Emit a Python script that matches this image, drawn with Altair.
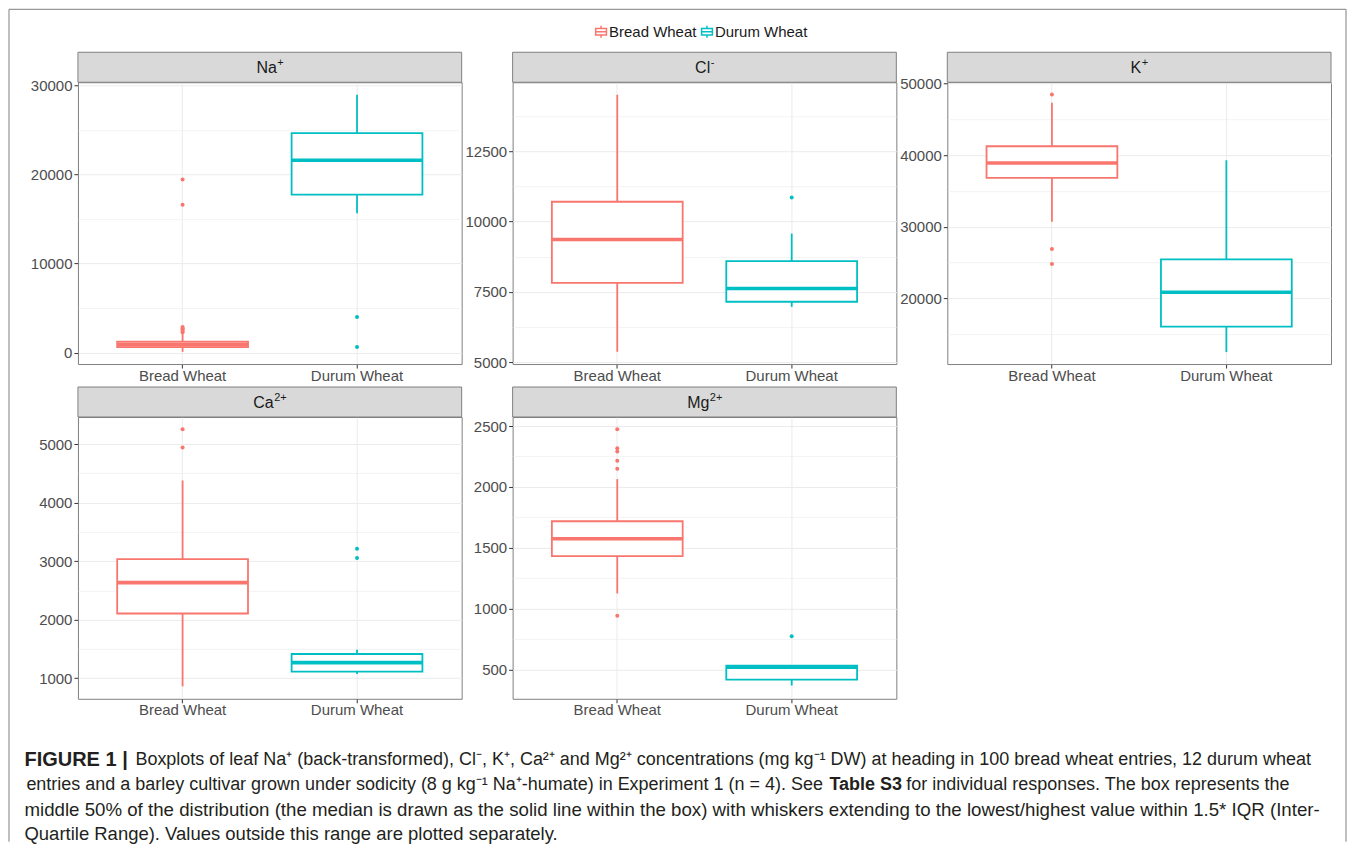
import altair as alt
import pandas as pd

FONT = "Liberation Sans, Arial, Helvetica, sans-serif"

groups = ["Bread Wheat", "Durum Wheat"]
group_colors = ["#F8766D", "#00BFC4"]
ion_names = ["Na", "Cl", "K", "Ca", "Mg"]
ion_charges = ["+", "-", "+", "2+", "2+"]

# five-number summaries: [lower whisker, Q1, median, Q3, upper whisker]
na_bread = [100, 620, 900, 1230, 2100]
na_durum = [15650, 17750, 21600, 24650, 28950]
cl_bread = [5380, 7820, 9360, 10700, 14500]
cl_durum = [6970, 7150, 7620, 8590, 9570]
k_bread = [30700, 36830, 38920, 41250, 47350]
k_durum = [12470, 16040, 20840, 25440, 39300]
ca_bread = [860, 2106, 2634, 3036, 4380]
ca_durum = [1073, 1112, 1266, 1414, 1487]
mg_bread = [1125, 1432, 1574, 1718, 2064]
mg_durum = [369, 418, 520, 533, 533]

# outliers
na_out_bread = [2300, 2450, 2600, 2750, 2900, 16600, 19450]
na_out_durum = [650, 4000]
cl_out_bread = []
cl_out_durum = [10850]
k_out_bread = [48500, 26900, 24800]
k_out_durum = []
ca_out_bread = [5255, 4945]
ca_out_durum = [3213, 3053]
mg_out_bread = [2473, 2318, 2290, 2214, 2149, 942]
mg_out_durum = [773]

# axis limits and tick values
na_domain = [-1270, 30350]
cl_domain = [4940, 14940]
k_domain = [10800, 50200]
ca_domain = [648, 5465]
mg_domain = [260, 2574]
na_ticks = [0, 5000, 10000, 15000, 20000, 25000, 30000]
cl_ticks = [5000, 6250, 7500, 8750, 10000, 11250, 12500, 13750]
k_ticks = [15000, 20000, 25000, 30000, 35000, 40000, 45000, 50000]
ca_ticks = [1000, 1500, 2000, 2500, 3000, 3500, 4000, 4500, 5000]
mg_ticks = [500, 750, 1000, 1250, 1500, 1750, 2000, 2250, 2500]
major_steps = [10000, 2500, 10000, 1000, 500]

caption_l1_bold = "FIGURE 1 |"
caption_l1 = ("Boxplots of leaf Na⁺ (back-transformed), Cl⁻, K⁺, Ca²⁺ and Mg²⁺ concentrations "
              "(mg kg⁻¹ DW) at heading in 100 bread wheat entries, 12 durum wheat")
caption_l2a = "entries and a barley cultivar grown under sodicity (8 g kg⁻¹ Na⁺-humate) in Experiment 1 (n = 4). See"
caption_l2_bold = "Table S3"
caption_l2c = "for individual responses. The box represents the"
caption_l3 = ("middle 50% of the distribution (the median is drawn as the solid line within the box) "
              "with whiskers extending to the lowest/highest value within 1.5* IQR (Inter-")
caption_l4 = "Quartile Range). Values outside this range are plotted separately."

W, H = 384, 282
STRIP_FS, SUP_FS = 16, 11
# approximate Arial advance widths (em) used to centre "name + charge" in the strip
EM = {"N": .722, "a": .556, "C": .722, "l": .222, "K": .667, "M": .833, "g": .556,
      "+": .584, "-": .333, "2": .556}
BOX_GLYPH = "M-0.9,-0.55H0.9V0.55H-0.9Z M-0.9,0H0.9 M0,-0.55V-1 M0,0.55V1"

color_scale = alt.Scale(domain=groups, range=group_colors)
x_scale = alt.Scale(domain=groups, paddingInner=0, paddingOuter=0.1)
x_axis = alt.Axis(title=None, labelAngle=0, grid=True, domain=False)
col = alt.Color("group:N", scale=color_scale, legend=None)
strk = alt.Stroke("group:N", scale=color_scale, legend=None)


def panel(i, bread, durum, out_b, out_d, domain, ticks, major, extra=None):
    stats = pd.DataFrame({
        "group": groups,
        "lower": [bread[0], durum[0]],
        "q1": [bread[1], durum[1]],
        "median": [bread[2], durum[2]],
        "q3": [bread[3], durum[3]],
        "upper": [bread[4], durum[4]],
    })
    outl = pd.DataFrame({
        "group": [groups[0]] * len(out_b) + [groups[1]] * len(out_d),
        "value": list(out_b) + list(out_d),
    })
    test = f"datum.value % {major} === 0"
    y_axis = alt.Axis(
        title=None, values=ticks, format="d", domain=False,
        labelExpr=f"{test} ? datum.label : ''",
        tickOpacity={"condition": {"test": test, "value": 1}, "value": 0},
        gridWidth={"condition": {"test": test, "value": 1}, "value": 0.6},
    )
    y_scale = alt.Scale(domain=domain, nice=False, zero=False)
    x = alt.X("group:N", scale=x_scale, axis=x_axis)

    def Y(f):
        return alt.Y(f"{f}:Q", scale=y_scale, axis=y_axis)

    base = alt.Chart(stats)
    whisk = base.mark_rule(strokeWidth=1.8).encode(x=x, y=Y("lower"), y2="upper:Q", color=col)
    box = base.mark_bar(fill="white", strokeWidth=1.8, width=alt.RelativeBandSize(0.75)).encode(
        x=x, y=Y("q1"), y2="q3:Q", stroke=strk)
    med = base.mark_tick(thickness=3.6, size=131, opacity=1).encode(x=x, y=Y("median"), color=col)
    layers = [whisk, box, med]
    if len(outl):
        pts = alt.Chart(outl).mark_circle(size=16, opacity=1).encode(x=x, y=Y("value"), color=col)
        layers.append(pts)

    name, charge = ion_names[i], ion_charges[i]
    wn = sum(EM[c] for c in name) * STRIP_FS
    wc = sum(EM[c] for c in charge) * SUP_FS
    xjoin = W / 2 + (wn - wc) / 2
    sdf = pd.DataFrame({"name": [name], "charge": [charge]})
    strip = alt.Chart(sdf).mark_rect(fill="#d9d9d9", stroke="#7f7f7f", strokeWidth=1).encode(
        x=alt.value(0), x2=alt.value(W), y=alt.value(-30), y2=alt.value(0))
    stxt = alt.Chart(sdf).mark_text(fontSize=STRIP_FS, color="#1a1a1a", font=FONT,
                                    align="right", baseline="alphabetic").encode(
        text="name:N", x=alt.value(xjoin), y=alt.value(-9))
    ssup = alt.Chart(sdf).mark_text(fontSize=SUP_FS, color="#1a1a1a", font=FONT,
                                    align="left", baseline="alphabetic").encode(
        text="charge:N", x=alt.value(xjoin + 0.5), y=alt.value(-16))
    layers = [strip, stxt, ssup] + layers
    if extra:
        layers = layers + extra
    return alt.layer(*layers).properties(width=W, height=H)


# frame, legend and caption, drawn relative to the first panel
fdf = pd.DataFrame({"k": [0]})
FL, FT, FR, FB = -69, -73, 1269, 760
frame = [
    alt.Chart(fdf).mark_rule(color="#808080", strokeWidth=1).encode(
        x=alt.value(FL), y=alt.value(FT), y2=alt.value(FB)),
    alt.Chart(fdf).mark_rule(color="#808080", strokeWidth=1).encode(
        x=alt.value(FR), y=alt.value(FT), y2=alt.value(FB)),
    alt.Chart(fdf).mark_rule(color="#808080", strokeWidth=1).encode(
        x=alt.value(FL), x2=alt.value(FR), y=alt.value(FT)),
]

legend_layers = []
LEG_Y = -50.5
for gi, (sx, lx) in enumerate([(523.5, 531.5), (629.5, 637.5)]):
    gdf = pd.DataFrame({"group": [groups[gi]]})
    legend_layers.append(
        alt.Chart(gdf).mark_point(shape=BOX_GLYPH, size=144, filled=False, strokeWidth=1.5,
                                  opacity=1).encode(
            x=alt.value(sx), y=alt.value(LEG_Y), color=col))
    legend_layers.append(
        alt.Chart(gdf).mark_text(fontSize=15, font=FONT, color="#1a1a1a", align="left",
                                 baseline="middle").encode(
            text="group:N", x=alt.value(lx), y=alt.value(LEG_Y)))


def cap(txt, xpos, ypos, bold=False, align="left", size=18):
    d = pd.DataFrame({"t": [txt]})
    return alt.Chart(d).mark_text(
        fontSize=size, font=FONT, color="#231f20", align=align, baseline="middle",
        fontWeight="bold" if bold else "normal").encode(
        text="t:N", x=alt.value(xpos), y=alt.value(ypos))


X0 = -53.5
caption = [
    cap(caption_l1_bold, X0, 678.5, bold=True, size=20),
    cap(caption_l1, 57.5, 678.5),
    cap(caption_l2a, 745.5, 703.5, align="right"),
    cap(caption_l2_bold, 752, 703.5, bold=True),
    cap(caption_l2c, 829, 703.5),
    cap(caption_l3, X0, 728.5, size=18.7),
    cap(caption_l4, X0, 752.5, size=18.5),
]

p = [
    panel(0, na_bread, na_durum, na_out_bread, na_out_durum, na_domain, na_ticks, major_steps[0],
          extra=frame + legend_layers + caption),
    panel(1, cl_bread, cl_durum, cl_out_bread, cl_out_durum, cl_domain, cl_ticks, major_steps[1]),
    panel(2, k_bread, k_durum, k_out_bread, k_out_durum, k_domain, k_ticks, major_steps[2]),
    panel(3, ca_bread, ca_durum, ca_out_bread, ca_out_durum, ca_domain, ca_ticks, major_steps[3]),
    panel(4, mg_bread, mg_durum, mg_out_bread, mg_out_durum, mg_domain, mg_ticks, major_steps[4]),
]

chart = alt.concat(*p, columns=3, spacing={"row": 53, "column": 51}, bounds="flush").properties(
    padding=0, background="white"
).configure_view(
    stroke="#7f7f7f", strokeWidth=1
).configure_axis(
    labelFont=FONT, labelFontSize=15, labelColor="#4d4d4d", tickColor="#333333",
    tickSize=4, labelPadding=2, gridColor="#ebebeb",
).configure_axisX(
    gridWidth=1, labelPadding=0,
)

chart.save("out.html", embed_options={"renderer": "svg", "actions": False})
